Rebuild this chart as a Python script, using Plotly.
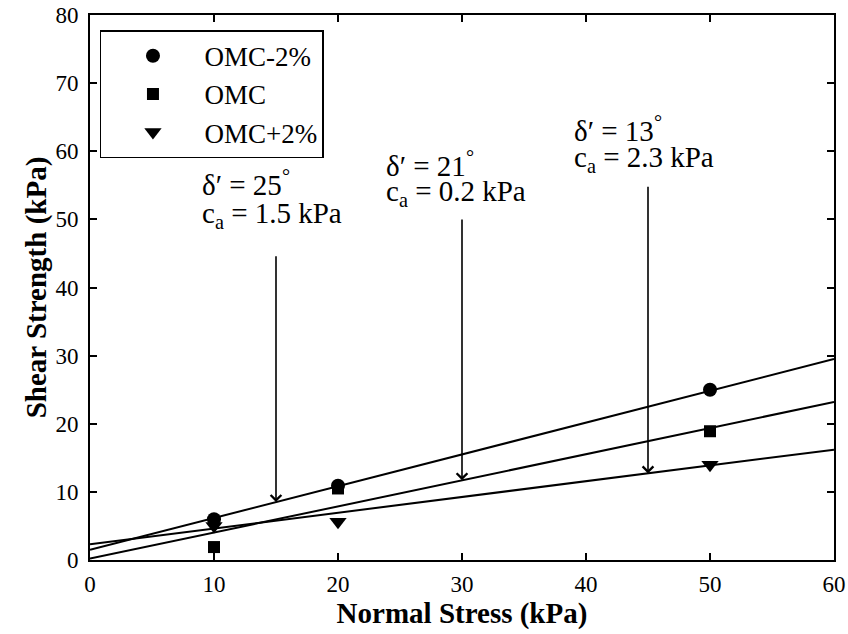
import plotly.graph_objects as go

# Measured data points
stress_x = [10, 20, 50]
omc_m2 = [6.0, 10.9, 25.0]
omc = [1.9, 10.5, 18.9]
omc_p2 = [5.0, 5.6, 14.0]

# Fitted failure envelopes (values read at x=0 and x=60)
fit_x = [0, 60]
fit_omc_m2 = [1.5, 29.5]
fit_omc = [0.2, 23.2]
fit_omc_p2 = [2.3, 16.2]

# Arrow annotations
arrow_x = [15, 30, 45]
arrow_top = [44.8, 50.2, 55.0]
arrow_tip = [8.5, 11.7, 12.7]
label_x = [8.9, 23.7, 38.9]
label_line1_y = [55.4, 58.2, 63.3]
label_line2_y = [50.6, 53.8, 58.8]
label_line1 = ["δ′ = 25<sup>°</sup>", "δ′ = 21<sup>°</sup>", "δ′ = 13<sup>°</sup>"]
label_line2 = ["c<sub>a</sub> = 1.5 kPa", "c<sub>a</sub> = 0.2 kPa", "c<sub>a</sub> = 2.3 kPa"]

FONT = "Liberation Serif, Times New Roman, serif"

fig = go.Figure()
for ys in (fit_omc_m2, fit_omc, fit_omc_p2):
    fig.add_trace(go.Scatter(x=fit_x, y=ys, mode="lines", line=dict(color="black", width=2),
                             showlegend=False, hoverinfo="skip"))

fig.add_trace(go.Scatter(x=stress_x, y=omc_m2, mode="markers", name="OMC-2%",
                         marker=dict(symbol="circle", size=14, color="black")))
fig.add_trace(go.Scatter(x=stress_x, y=omc, mode="markers", name="OMC",
                         marker=dict(symbol="square", size=12, color="black")))
fig.add_trace(go.Scatter(x=stress_x, y=omc_p2, mode="markers", name="OMC+2%",
                         marker=dict(symbol="triangle-down", size=15, color="black")))

for ax_, top, tip in zip(arrow_x, arrow_top, arrow_tip):
    fig.add_annotation(x=ax_, y=tip, ax=ax_, ay=top, xref="x", yref="y", axref="x", ayref="y",
                       showarrow=True, arrowhead=4, arrowsize=1.3, arrowwidth=1.6,
                       arrowcolor="black", text="")

for lx, y1, y2, t1, t2 in zip(label_x, label_line1_y, label_line2_y, label_line1, label_line2):
    fig.add_annotation(x=lx, y=y1, xref="x", yref="y", text=t1, showarrow=False,
                       xanchor="left", yanchor="middle", align="left",
                       font=dict(family=FONT, size=29, color="black"))
    fig.add_annotation(x=lx, y=y2, xref="x", yref="y", text=t2, showarrow=False,
                       xanchor="left", yanchor="middle", align="left",
                       font=dict(family=FONT, size=29, color="black"))

axis_common = dict(showline=True, linecolor="black", linewidth=2, mirror="ticks",
                   ticks="inside", ticklen=7, tickwidth=1.5, tickcolor="black",
                   showgrid=False, zeroline=False, automargin=False,
                   ticklabeloverflow="allow",
                   tickfont=dict(family=FONT, size=23, color="black"))

fig.update_xaxes(range=[0, 60], tickvals=[0, 10, 20, 30, 40, 50, 60],
                 title=dict(text="<b>Normal Stress (kPa)</b>",
                            font=dict(family=FONT, size=29, color="black"), standoff=0),
                 ticklabelstandoff=2, **axis_common)
fig.update_yaxes(range=[0, 80], tickvals=[0, 10, 20, 30, 40, 50, 60, 70, 80],
                 title=dict(text="<b>Shear Strength (kPa)</b>",
                            font=dict(family=FONT, size=29, color="black"), standoff=0),
                 ticklabelstandoff=5, **axis_common)

# plot area at x 90-834, y 15-560 of the 848x634 page
fig.update_layout(
    width=848, height=634,
    margin=dict(l=90, r=14, t=15, b=74),
    plot_bgcolor="white", paper_bgcolor="white",
    legend=dict(x=0.0134, y=0.972, xanchor="left", yanchor="top",
                bgcolor="white", bordercolor="black", borderwidth=1.5,
                font=dict(family=FONT, size=27, color="black"),
                itemwidth=93),
)

fig.write_html("out.html", config={"displayModeBar": False},
               post_script="document.body.style.margin='0';document.body.style.overflow='hidden';")
